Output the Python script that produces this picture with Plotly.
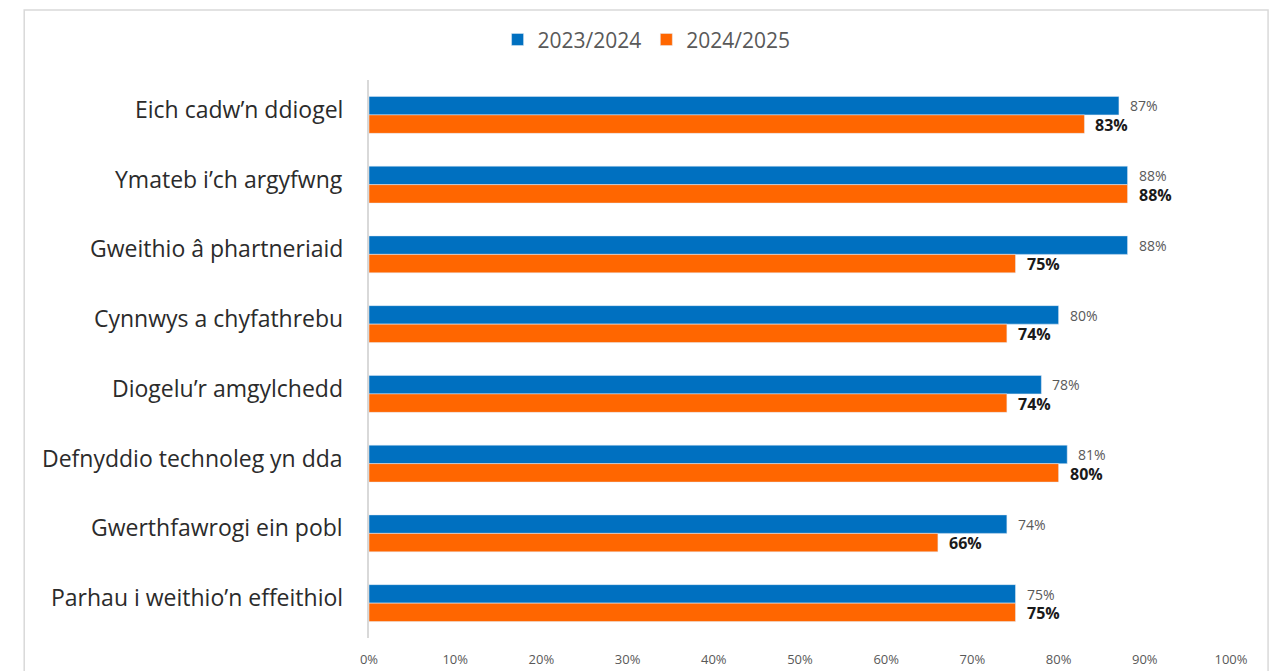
import plotly.graph_objects as go

categories = [
    "Eich cadw’n ddiogel",
    "Ymateb i’ch argyfwng",
    "Gweithio â phartneriaid",
    "Cynnwys a chyfathrebu",
    "Diogelu’r amgylchedd",
    "Defnyddio technoleg yn dda",
    "Gwerthfawrogi ein pobl",
    "Parhau i weithio’n effeithiol",
]
series_names = ["2023/2024", "2024/2025"]
values_2023 = [87, 88, 88, 80, 78, 81, 74, 75]
values_2024 = [83, 88, 75, 74, 74, 80, 66, 75]
x_ticks = [0, 10, 20, 30, 40, 50, 60, 70, 80, 90, 100]
x_tick_labels = [f"{t}%" for t in x_ticks]

BLUE = "#0070c0"
ORANGE = "#ff6600"

fig = go.Figure()
fig.add_trace(go.Bar(
    y=categories, x=values_2023, name=series_names[0], orientation="h",
    marker=dict(color=BLUE), hoverinfo="x+y",
))
fig.add_trace(go.Bar(
    y=categories, x=values_2024, name=series_names[1], orientation="h",
    marker=dict(color=ORANGE), hoverinfo="x+y",
))

annotations = []
# category labels (shifted slightly above the group centre, as in the reference)
for c in categories:
    annotations.append(dict(
        x=0, y=c, xref="paper", yref="y", text=c, showarrow=False,
        xanchor="right", xshift=-24, yshift=6,
        font=dict(family="Open Sans, Noto Sans, sans-serif", size=23, color="#2b2b2b"),
    ))
for c, v in zip(categories, values_2023):
    annotations.append(dict(
        x=v, y=c, xref="x", yref="y", text=f"{v}%", showarrow=False,
        xanchor="left", xshift=9, yshift=9,
        font=dict(family="Open Sans, Liberation Sans, sans-serif", size=14, color="#595959"),
    ))
for c, v in zip(categories, values_2024):
    annotations.append(dict(
        x=v, y=c, xref="x", yref="y", text=f"<b>{v}%</b>", showarrow=False,
        xanchor="left", xshift=9, yshift=-10,
        font=dict(family="Open Sans, Liberation Sans, sans-serif", size=16, color="#1a1a1a"),
    ))

fig.update_layout(
    width=1274, height=671,
    margin=dict(l=369, r=43, t=80, b=33, autoexpand=False),
    paper_bgcolor="white", plot_bgcolor="white",
    barmode="group", bargap=0.47, bargroupgap=0,
    showlegend=True,
    legend=dict(
        orientation="h", x=0.322, xanchor="center", xref="paper",
        y=1.072, yanchor="middle", yref="paper",
        font=dict(family="Open Sans, Liberation Sans, sans-serif", size=21, color="#595959"),
        itemwidth=30, traceorder="normal", bgcolor="rgba(0,0,0,0)",
    ),
    xaxis=dict(
        range=[0, 100], tickvals=x_ticks, ticktext=x_tick_labels,
        showgrid=False, zeroline=False, showline=False, automargin=False,
        tickfont=dict(family="Open Sans, Liberation Sans, sans-serif", size=13, color="#595959"),
        ticks="", ticklabelstandoff=12, fixedrange=True, tickangle=0,
    ),
    yaxis=dict(
        autorange="reversed", showgrid=False, zeroline=False, automargin=False,
        showline=True, linecolor="#d9d9d9", linewidth=2,
        ticks="", showticklabels=False,
        fixedrange=True,
    ),
    annotations=annotations,
    shapes=[dict(
        type="rect", xref="paper", yref="paper",
        x0=-0.400, x1=1.043, y0=-0.08, y1=1.1254,
        line=dict(color="#d9d9d9", width=1.5), fillcolor="rgba(0,0,0,0)", layer="below",
    )],
)

fig.write_html("out.html", post_script="document.body.style.margin='0';",
               config={"displayModeBar": False})
